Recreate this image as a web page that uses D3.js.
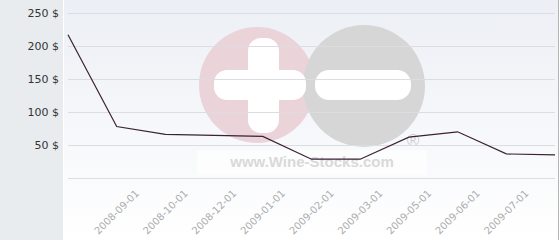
<!DOCTYPE html>
<html>
<head>
<meta charset="utf-8">
<script src="https://cdn.jsdelivr.net/npm/d3@7"></script>
<style>
  body { margin: 0; padding: 0; background: #fff; }
  svg { display: block; font-family: "DejaVu Sans", Verdana, sans-serif; }
</style>
</head>
<body>
<script>
const w = 560;
const h = 240;

// price per month
const tickLabels = ["", "2008-09-01", "2008-10-01", "2008-12-01", "2009-01-01",
    "2009-02-01", "2009-03-01", "2009-05-01", "2009-06-01", "2009-07-01", ""];
const prices = [217, 78, 66, 64.5, 63, 28.5, 28.5, 62, 70, 36.5, 35];
const yTicks = [0, 50, 100, 150, 200, 250];

let svg = d3.select("body")
    .append("svg")
    .attr("width", w)
    .attr("height", h);

let defs = svg.append("defs");
let grad = defs.append("linearGradient")
    .attr("id", "bg")
    .attr("x1", 0).attr("y1", 0)
    .attr("x2", 0).attr("y2", 1);
grad.append("stop").attr("offset", "0%").attr("stop-color", "#eceff5");
grad.append("stop").attr("offset", "100%").attr("stop-color", "#ffffff");

// left panel + plot background
svg.append("rect")
    .attr("x", 0).attr("y", 0)
    .attr("width", 63).attr("height", h)
    .style("fill", "#e8ecef");
svg.append("rect")
    .attr("x", 64).attr("y", 0)
    .attr("width", 494).attr("height", h)
    .style("fill", "url(#bg)");
svg.append("line")
    .attr("x1", 558.5).attr("x2", 558.5)
    .attr("y1", 0).attr("y2", h)
    .style("stroke", "#b4b4b4");

let x = d3.scalePoint()
    .domain(d3.range(prices.length))
    .range([68, 555]);
let y = d3.scaleLinear()
    .domain([0, 250])
    .range([178, 13]);

// watermark
let wm = svg.append("g");
wm.append("rect")
    .attr("x", 197).attr("y", 150)
    .attr("width", 230).attr("height", 25)
    .style("fill", "#ffffff").style("opacity", 0.6);
wm.append("circle").attr("cx", 257).attr("cy", 85).attr("r", 58)
    .style("fill", "#ebd3da");
wm.append("circle").attr("cx", 364).attr("cy", 86).attr("r", 61)
    .style("fill", "#d6d6d6");
wm.append("rect").attr("x", 248).attr("y", 38).attr("width", 31).attr("height", 95)
    .attr("rx", 13).style("fill", "#fff");
wm.append("rect").attr("x", 214).attr("y", 70).attr("width", 92).attr("height", 30)
    .attr("rx", 13).style("fill", "#fff");
wm.append("rect").attr("x", 315).attr("y", 70).attr("width", 96).attr("height", 30)
    .attr("rx", 14).style("fill", "#fff");
wm.append("text")
    .attr("x", 312).attr("y", 167)
    .attr("text-anchor", "middle")
    .style("font-size", "15px").style("font-weight", "bold")
    .style("font-family", "Arial, 'Liberation Sans', sans-serif")
    .style("fill", "#d9d9d9")
    .text("www.Wine-Stocks.com");
wm.append("text")
    .attr("x", 413).attr("y", 146)
    .attr("text-anchor", "middle")
    .style("font-size", "17px")
    .style("font-family", "Arial, 'Liberation Sans', sans-serif")
    .style("fill", "#cfcfcf")
    .text("®");

// grid lines
svg.append("g")
    .selectAll("line")
    .data(yTicks)
    .enter()
    .append("line")
    .attr("x1", 68).attr("x2", 555)
    .attr("y1", (d) => Math.round(y(d)) + 0.5)
    .attr("y2", (d) => Math.round(y(d)) + 0.5)
    .style("stroke", "#dcdde0");

// y labels
svg.append("g")
    .selectAll("text")
    .data(yTicks.filter((d) => d > 0))
    .enter()
    .append("text")
    .attr("x", 59)
    .attr("y", (d) => y(d))
    .attr("dy", "0.35em")
    .attr("text-anchor", "end")
    .style("font-size", "11px")
    .style("fill", "#333")
    .text((d) => d + " $");

// x labels, centred under ticks and turned
svg.append("g")
    .selectAll("text")
    .data(tickLabels)
    .enter()
    .append("text")
    .attr("transform", (d, i) => "translate(" + x(i) + ",212) rotate(-45)")
    .attr("text-anchor", "middle")
    .attr("dy", "0.35em")
    .style("font-size", "10px")
    .style("fill", "#acacac")
    .text((d) => d);

// price line
let line = d3.line()
    .x((d, i) => x(i))
    .y((d) => y(d));
svg.append("path")
    .datum(prices)
    .attr("d", line)
    .style("fill", "none")
    .style("stroke", "#3a2230")
    .style("stroke-width", 1.2);
</script>
</body>
</html>
